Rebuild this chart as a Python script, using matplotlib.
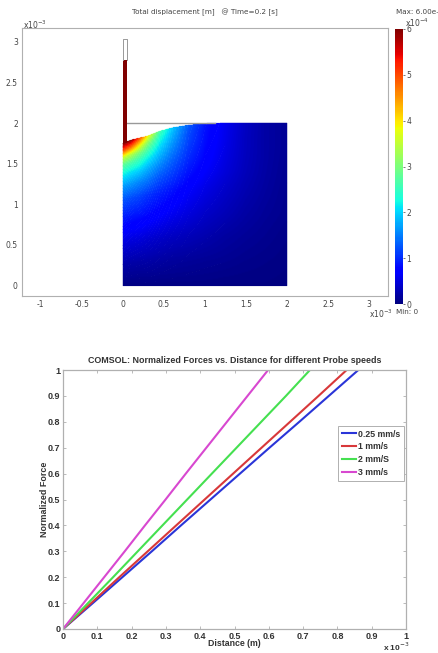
import numpy as np
import matplotlib
matplotlib.use("Agg")
import matplotlib.pyplot as plt
from matplotlib.cm import ScalarMappable
from matplotlib.colors import Normalize

W, H = 438, 653

# ── displacement field (1e-3 m, values 1e-4 m) ──
field_x = [0.0, 0.1, 0.2, 0.3, 0.45, 0.6, 0.8, 1.0, 1.25, 1.5, 1.75, 2.0]
surface_y = [1.75, 1.79, 1.815, 1.84, 1.90, 1.94, 1.975, 1.99, 2.0, 2.0, 2.0, 2.0]
depth_frac = [0.0, 0.15, 0.3, 0.45, 0.6, 0.7, 0.78, 0.85, 0.9, 0.95, 1.0]
field_vals = [
    [0.03, 0.22, 0.50, 0.85, 1.25, 1.7, 2.2, 2.8, 3.6, 5.0, 6.0],
    [0.03, 0.21, 0.48, 0.82, 1.2, 1.65, 2.1, 2.7, 3.4, 4.7, 5.9],
    [0.03, 0.20, 0.46, 0.80, 1.15, 1.55, 2.0, 2.5, 3.0, 3.9, 5.0],
    [0.03, 0.20, 0.42, 0.75, 1.05, 1.45, 1.8, 2.2, 2.6, 3.1, 3.9],
    [0.03, 0.18, 0.38, 0.68, 0.95, 1.25, 1.55, 1.85, 2.05, 2.3, 2.6],
    [0.03, 0.16, 0.34, 0.60, 0.85, 1.1, 1.3, 1.5, 1.65, 1.8, 1.95],
    [0.03, 0.14, 0.30, 0.50, 0.68, 0.85, 0.98, 1.08, 1.15, 1.2, 1.3],
    [0.03, 0.12, 0.25, 0.40, 0.55, 0.67, 0.75, 0.8, 0.83, 0.85, 0.88],
    [0.02, 0.10, 0.18, 0.30, 0.40, 0.48, 0.52, 0.55, 0.57, 0.58, 0.6],
    [0.02, 0.07, 0.13, 0.20, 0.27, 0.31, 0.33, 0.34, 0.34, 0.35, 0.35],
    [0.02, 0.05, 0.09, 0.13, 0.17, 0.19, 0.2, 0.2, 0.2, 0.2, 0.2],
    [0.01, 0.03, 0.05, 0.08, 0.09, 0.1, 0.11, 0.12, 0.12, 0.12, 0.12],
]
probe_x = [0.0, 0.05]
probe_tip_y = 1.75
probe_top_y = 2.78
probe_old_top_y = 3.03
undeformed_x = [0.05, 1.12]
undeformed_y = [2.0, 2.0]

top_xticks = [-1, -0.5, 0, 0.5, 1, 1.5, 2, 2.5, 3]
top_xlabels = ["-1", "-0.5", "0", "0.5", "1", "1.5", "2", "2.5", "3"]
top_yticks = [0, 0.5, 1, 1.5, 2, 2.5, 3]
top_ylabels = ["0", "0.5", "1", "1.5", "2", "2.5", "3"]
cbar_ticks = [0, 1, 2, 3, 4, 5, 6]

# ── force curves ──
force = [0, 0.1, 0.2, 0.3, 0.4, 0.5, 0.6, 0.7, 0.8, 0.9, 1.0]
dist_025 = [0, 0.087, 0.173, 0.259, 0.344, 0.430, 0.516, 0.602, 0.689, 0.775, 0.861]
dist_1 = [0, 0.082, 0.164, 0.247, 0.330, 0.413, 0.496, 0.579, 0.662, 0.745, 0.827]
dist_2 = [0, 0.073, 0.146, 0.218, 0.290, 0.362, 0.434, 0.506, 0.578, 0.650, 0.72]
dist_3 = [0, 0.06, 0.12, 0.18, 0.239, 0.299, 0.358, 0.418, 0.478, 0.538, 0.598]
ticks_01 = [0, 0.1, 0.2, 0.3, 0.4, 0.5, 0.6, 0.7, 0.8, 0.9, 1]
labels_01 = ["0", "0.1", "0.2", "0.3", "0.4", "0.5", "0.6", "0.7", "0.8", "0.9", "1"]


def px_axes(fig, left, top, right, bottom):
    return fig.add_axes([left / W, 1 - bottom / H, (right - left) / W, (bottom - top) / H])


def resample_field():
    # fine mesh between the read points, gouraud leaves jagged edges at this size
    xf = np.linspace(field_x[0], field_x[-1], 330)
    sf = np.linspace(0, 1, 330)
    vals = np.array(field_vals)
    by_s = np.array([np.interp(sf, depth_frac, col) for col in vals])
    fine = np.array([np.interp(xf, field_x, by_s[:, j]) for j in range(len(sf))]).T
    top = np.interp(xf, field_x, surface_y)
    XX, SS = np.meshgrid(xf, sf, indexing="ij")
    return XX, SS * top[:, None], fine


fig = plt.figure(figsize=(W / 100, H / 100), dpi=100)
norm = Normalize(0, 6)
GREY = "#b0b0b0"
TXT = "#444444"
DARK = "#333333"
SANS = "Liberation Sans"

# ── upper plot ──
ax = px_axes(fig, 22, 28, 388, 296)
ax.set_xlim(-1.23, 3.23)
ax.set_ylim(-0.13, 3.17)
XX, YY, VV = resample_field()
ax.pcolormesh(XX, YY, VV, cmap="jet", norm=norm, shading="nearest", antialiased=True,
              edgecolors="face", linewidth=0.1)
ax.fill_between(probe_x, probe_tip_y, probe_top_y, color=plt.cm.jet(1.0), lw=0, zorder=3)
ax.plot([probe_x[0], probe_x[0], probe_x[1], probe_x[1]],
        [probe_top_y, probe_old_top_y, probe_old_top_y, probe_top_y],
        color="#999999", lw=0.7, zorder=3)
ax.plot(undeformed_x, undeformed_y, color="#999999", lw=1.0, zorder=2)
ax.set_xticks(top_xticks, top_xlabels)
ax.set_yticks(top_yticks, top_ylabels)
ax.tick_params(length=0, labelsize=5.5, labelcolor=TXT, pad=3)
for sp in ax.spines.values():
    sp.set_color(GREY)
    sp.set_linewidth(0.8)

fig.text(205 / W, 1 - 12 / H, "Total displacement [m]   @ Time=0.2 [s]",
         ha="center", va="center", fontsize=5.2, color=TXT)
fig.text(396 / W, 1 - 12 / H, "Max: 6.00e-4", ha="left", va="center", fontsize=5.2, color=TXT)
fig.text(396 / W, 1 - 312 / H, "Min: 0", ha="left", va="center", fontsize=5.2, color=TXT)
fig.text(23 / W, 1 - 25 / H, r"x10$^{-3}$", ha="left", va="center", fontsize=5.5, color=TXT)
fig.text(369 / W, 1 - 314 / H, r"x10$^{-3}$", ha="left", va="center", fontsize=5.5, color=TXT)
fig.text(405 / W, 1 - 23 / H, r"x10$^{-4}$", ha="left", va="center", fontsize=5.5, color=TXT)

cax = px_axes(fig, 395, 29, 403, 304)
cb = fig.colorbar(ScalarMappable(norm=norm, cmap="jet"), cax=cax)
cb.set_ticks(cbar_ticks)
cb.ax.tick_params(length=1.5, width=0.5, labelsize=5.5, labelcolor=TXT, color=TXT, pad=1)
cb.outline.set_visible(False)

# ── lower plot ──
ax2 = px_axes(fig, 63, 370, 406, 629)
ax2.plot(dist_025, force, color="#2a35d8", lw=1.5, label="0.25 mm/s")
ax2.plot(dist_1, force, color="#d8383a", lw=1.5, label="1 mm/s")
ax2.plot(dist_2, force, color="#45e050", lw=1.5, label="2 mm/S")
ax2.plot(dist_3, force, color="#d848d0", lw=1.5, label="3 mm/s")
ax2.set_xlim(0, 1)
ax2.set_ylim(0, 1)
ax2.set_xticks(ticks_01, labels_01)
ax2.set_yticks(ticks_01, labels_01)
ax2.tick_params(direction="in", top=True, right=True, length=2.5, width=0.6,
                color=GREY, labelsize=6.5, labelcolor=DARK, pad=2)
for t in ax2.get_xticklabels() + ax2.get_yticklabels():
    t.set_fontweight("bold")
    t.set_family(SANS)
for sp in ax2.spines.values():
    sp.set_color(GREY)
    sp.set_linewidth(0.9)
ax2.set_title("COMSOL: Normalized Forces vs. Distance for different Probe speeds",
              fontsize=6.4, fontweight="bold", color=DARK, pad=5, family=SANS)
ax2.set_xlabel("Distance (m)", fontsize=6.3, fontweight="bold", color=DARK, labelpad=-1, family=SANS)
ax2.set_ylabel("Normalized Force", fontsize=6.4, fontweight="bold", color=DARK, labelpad=-1, family=SANS)
fig.text(383 / W, 1 - 647 / H, "x 10$^{-3}$", ha="left", va="center",
         fontsize=6, fontweight="bold", color=DARK, family=SANS)

leg = ax2.legend(loc="upper left", bbox_to_anchor=((338 - 63) / 343, 1 - (426 - 370) / 259),
                 borderaxespad=0, frameon=True, fancybox=False, framealpha=1,
                 prop={"family": SANS, "weight": "bold", "size": 6.3},
                 handlelength=1.6, handletextpad=0.3, borderpad=0.4, labelspacing=0.45)
leg.get_frame().set_edgecolor(GREY)
leg.get_frame().set_linewidth(0.7)
for t in leg.get_texts():
    t.set_color(DARK)

fig.savefig("out.png", dpi=100)
